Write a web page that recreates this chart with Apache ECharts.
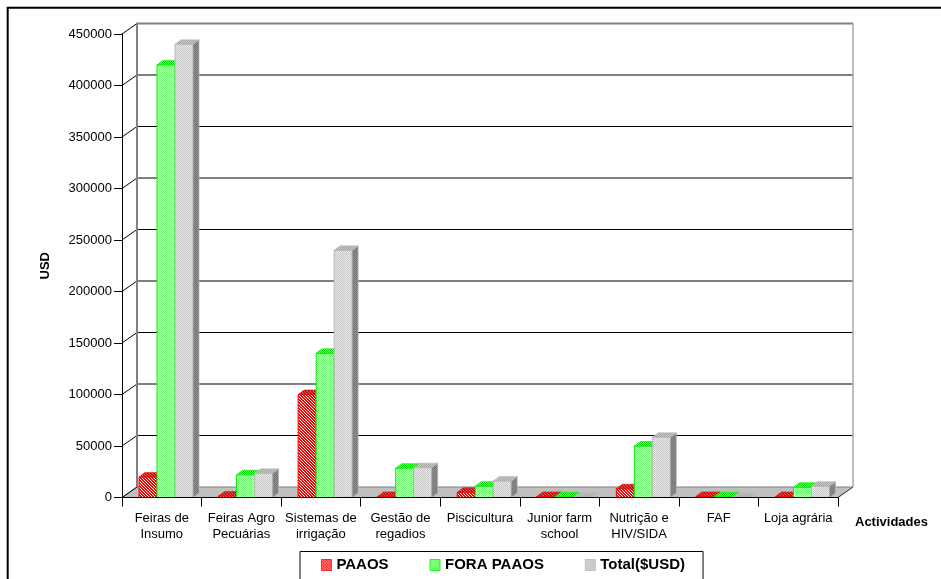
<!DOCTYPE html>
<html>
<head>
<meta charset="utf-8">
<title>Actividades — USD</title>
<script src="https://cdn.jsdelivr.net/npm/echarts@6/dist/echarts.min.js"></script>
<style>
  html, body { margin: 0; padding: 0; background: #fff; }
  #chart { width: 941px; height: 579px; }
</style>
</head>
<body>
<div id="chart"></div>
<script>
// Activity categories (x axis)
const categories = [
  'Feiras de\nInsumo',
  'Feiras Agro\nPecuárias',
  'Sistemas de\nirrigação',
  'Gestão de\nregadios',
  'Piscicultura',
  'Junior farm\nschool',
  'Nutrição e\nHIV/SIDA',
  'FAF',
  'Loja agrária'
];

// Spending per activity, USD
const paaos     = [20000, 1500, 100000, 1000, 5000, 1000, 8500, 1000, 1000];
const foraPaaos = [420000, 22000, 140000, 28500, 11000, 700, 50000, 700, 10000];
const totalUsd  = [440000, 23500, 240000, 29000, 16000, 0, 58500, 0, 11000];

const seriesNames = ['PAAOS', 'FORA PAAOS', 'Total($USD)'];

// Value axis ticks
const yTicks = [0, 50000, 100000, 150000, 200000, 250000, 300000, 350000, 400000, 450000];

const FONT = '"Liberation Sans", Arial, sans-serif';

// Pseudo-3D geometry (pixels)
const WALL_DX = 15, WALL_DY = -10.5;   // depth of floor / back wall
const BAR_DX = 6, BAR_DY = -4.5;       // depth of each bar
const BAR_FRAC = 0.2264;               // bar width as share of a category
const GAP_FRAC = 0.2138;               // offset of first bar inside a category

function pattern(size, paint) {
  const c = document.createElement('canvas');
  c.width = size; c.height = size;
  const ctx = c.getContext('2d');
  paint(ctx, size);
  return { image: c, repeat: 'repeat' };
}
function hatch(base, stripe) {
  return pattern(3, function (ctx, s) {
    ctx.fillStyle = base; ctx.fillRect(0, 0, s, s);
    ctx.fillStyle = stripe;
    for (let x = 0; x < s; x++) for (let y = 0; y < s; y++) {
      if (((x - y) % 3 + 3) % 3 === 0) ctx.fillRect(x, y, 1, 1);
    }
  });
}
function checker(a, b) {
  return pattern(2, function (ctx) {
    ctx.fillStyle = b; ctx.fillRect(0, 0, 2, 2);
    ctx.fillStyle = a; ctx.fillRect(0, 0, 1, 1); ctx.fillRect(1, 1, 1, 1);
  });
}

const looks = [
  { front: hatch('#ff0000', '#ffffff'), top: hatch('#e00000', '#a08080'), side: hatch('#b00000', '#d06060'),
    stroke: '#ff0000', key: hatch('#ff0000', '#ffffff') },
  { front: checker('#70ff70', '#e2ffe2'), top: checker('#00d800', '#70ff70'), side: checker('#00a800', '#50d050'),
    stroke: '#00f000', key: checker('#33ff33', '#b8ffb8') },
  { front: checker('#c4c4c4', '#ececec'), top: checker('#a4a4a4', '#c8c8c8'), side: checker('#787878', '#8c8c8c'),
    stroke: '#b8b8b8', key: checker('#b8b8b8', '#e0e0e0') }
];

function barRenderer(k) {
  return function (params, api) {
    const idx = api.value(0), v = api.value(1);
    const base = api.coord([idx, 0]);
    const top = api.coord([idx, v]);
    const cw = api.size([1, 0])[0];
    const bw = cw * BAR_FRAC;
    const x0 = base[0] - cw / 2 + cw * GAP_FRAC + k * bw;
    const x1 = x0 + bw;
    const y0 = base[1], y1 = top[1];
    const L = looks[k];
    return {
      type: 'group',
      children: [
        { type: 'rect', shape: { x: x0, y: y1, width: bw, height: y0 - y1 },
          style: { fill: L.front, stroke: L.stroke, lineWidth: 1 } },
        { type: 'polygon', shape: { points: [[x1, y1], [x1 + BAR_DX, y1 + BAR_DY], [x1 + BAR_DX, y0 + BAR_DY], [x1, y0]] },
          style: { fill: L.side, stroke: L.stroke, lineWidth: 0.6 } },
        { type: 'polygon', shape: { points: [[x0, y1], [x1, y1], [x1 + BAR_DX, y1 + BAR_DY], [x0 + BAR_DX, y1 + BAR_DY]] },
          style: { fill: L.top, stroke: L.stroke, lineWidth: 0.6 } }
      ]
    };
  };
}

// Floor, back wall and its gridlines, drawn from the axis scales
function renderFrame(params, api) {
  const n = categories.length;
  const cw = api.size([1, 0])[0];
  const xl = api.coord([0, 0])[0] - cw / 2;
  const xr = api.coord([n - 1, 0])[0] + cw / 2;
  const yBase = api.coord([0, 0])[1];
  const yTop = api.coord([0, yTicks[yTicks.length - 1]])[1];
  const children = [];
  children.push({ type: 'polygon',
    shape: { points: [[xl, yBase], [xr, yBase], [xr + WALL_DX, yBase + WALL_DY], [xl + WALL_DX, yBase + WALL_DY]] },
    style: { fill: '#c0c0c0', stroke: '#808080', lineWidth: 1 } });
  children.push({ type: 'line', shape: { x1: xr, y1: yBase, x2: xr + WALL_DX, y2: yBase + WALL_DY },
    style: { stroke: '#404040', lineWidth: 1 } });
  yTicks.forEach(function (t, i) {
    const y = api.coord([0, t])[1];
    if (i > 0 && i < yTicks.length - 1) {
      children.push({ type: 'line', shape: { x1: xl + WALL_DX, y1: y + WALL_DY, x2: xr + WALL_DX, y2: y + WALL_DY },
        style: { stroke: '#000', lineWidth: 1 } });
    }
    children.push({ type: 'line', shape: { x1: xl, y1: y, x2: xl + WALL_DX, y2: y + WALL_DY },
      style: { stroke: '#000', lineWidth: 1 } });
  });
  children.push({ type: 'polyline',
    shape: { points: [[xl + WALL_DX, yBase + WALL_DY], [xl + WALL_DX, yTop + WALL_DY], [xr + WALL_DX, yTop + WALL_DY]] },
    style: { stroke: '#808080', lineWidth: 2, fill: null } });
  children.push({ type: 'line', shape: { x1: xr + WALL_DX, y1: yTop + WALL_DY, x2: xr + WALL_DX, y2: yBase + WALL_DY },
    style: { stroke: '#a8a8a8', lineWidth: 1.5 } });
  return { type: 'group', children: children };
}

const chart = echarts.init(document.getElementById('chart'));

const dataSets = [paaos, foraPaaos, totalUsd];

chart.setOption({
  animation: false,
  backgroundColor: '#fff',
  textStyle: { fontFamily: FONT },
  grid: { left: 122, right: 103, top: 34, bottom: 81.5 },
  xAxis: {
    type: 'category',
    data: categories,
    z: 5,
    name: 'Actividades',
    nameLocation: 'end',
    nameGap: 17,
    nameTextStyle: { fontFamily: FONT, fontSize: 13, fontWeight: 'bold', color: '#000',
      align: 'left', verticalAlign: 'top', padding: [18, 0, 0, 0] },
    axisLine: { lineStyle: { color: '#000', width: 1 } },
    axisTick: { show: true, interval: 0, length: 9, lineStyle: { color: '#000' } },
    axisLabel: { interval: 0, margin: 13, fontFamily: FONT, fontSize: 13, lineHeight: 16, color: '#000' },
    splitLine: { show: false }
  },
  yAxis: {
    type: 'value',
    min: yTicks[0],
    max: yTicks[yTicks.length - 1],
    interval: yTicks[1] - yTicks[0],
    z: 5,
    name: 'USD',
    nameLocation: 'middle',
    nameRotate: 90,
    nameGap: 70,
    nameTextStyle: { fontFamily: FONT, fontSize: 13, fontWeight: 'bold', color: '#000' },
    axisLine: { show: true, lineStyle: { color: '#000', width: 1 } },
    axisTick: { show: true, length: 8, lineStyle: { color: '#000' } },
    axisLabel: { margin: 10, fontFamily: FONT, fontSize: 13, color: '#000',
      formatter: function (v) { return String(v); } },
    splitLine: { show: false }
  },
  legend: {
    data: seriesNames.map(function (name, k) {
      return { name: name, itemStyle: { color: looks[k].key, borderColor: looks[k].stroke, borderWidth: 0.8 } };
    }),
    left: 300,
    top: 551.5,
    padding: [6, 18, 20, 21],
    itemGap: 41,
    itemWidth: 10,
    itemHeight: 11,
    borderColor: '#000',
    borderWidth: 1,
    icon: 'rect',
    textStyle: { fontFamily: FONT, fontSize: 15, fontWeight: 'bold', color: '#000' }
  },
  graphic: [
    { type: 'rect', shape: { x: 7.7, y: 7.7, width: 1200, height: 1200 },
      style: { fill: null, stroke: '#000', lineWidth: 2 }, silent: true, z: 10 }
  ],
  series: [
    { type: 'custom', name: '_frame', renderItem: renderFrame, data: [[0, 0]], z: 1, silent: true, clip: false }
  ].concat(dataSets.map(function (vals, k) {
    return {
      type: 'custom',
      name: seriesNames[k],
      renderItem: barRenderer(k),
      itemStyle: { color: looks[k].front, borderColor: looks[k].stroke, borderWidth: 1 },
      data: vals.map(function (v, i) { return [i, v]; }),
      encode: { x: 0, y: 1 },
      z: 3,
      clip: false
    };
  }))
});
</script>
</body>
</html>
